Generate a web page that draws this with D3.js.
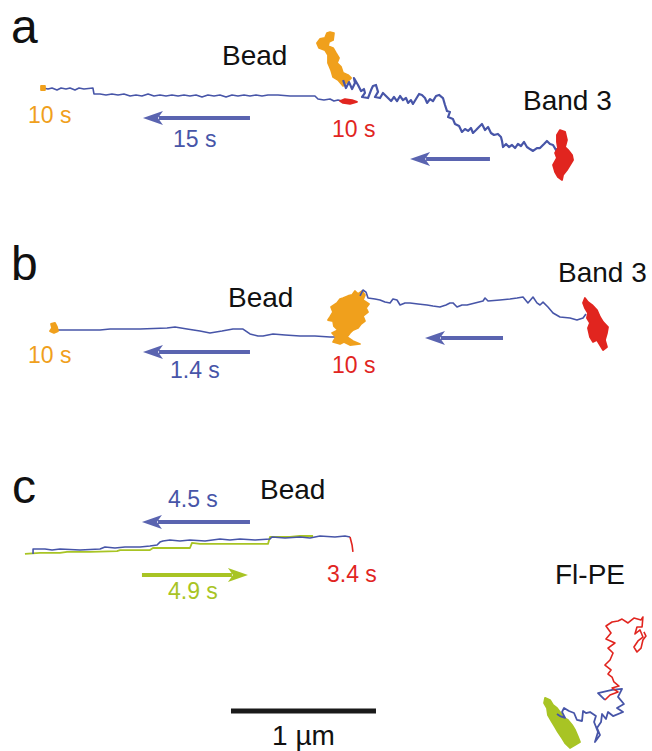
<!DOCTYPE html>
<html>
<head>
<meta charset="utf-8">
<script src="https://cdn.jsdelivr.net/npm/d3@7"></script>
<style>
body { margin: 0; background: #fff; }
svg text { font-family: "Liberation Sans", Arial, Helvetica, sans-serif; }
</style>
</head>
<body>
<div class="figHolder"></div>
<script>
// track coordinates in µm, measured from the top-left corner of each panel

// panel a
const beadStartA = [[0.283,0.593],[0.310,0.593],[0.310,0.621],[0.283,0.621]];
const beadTrackA = [[0.297,0.607],[0.331,0.614],[0.359,0.607],[0.393,0.621],[0.421,0.607],[0.455,0.614],[0.483,0.607],[0.517,0.621],[0.545,0.607],[0.579,0.614],[0.641,0.607],[0.648,0.648],[0.690,0.648],[0.731,0.655],[0.772,0.648],[0.814,0.655],[0.855,0.648],[0.897,0.662],[0.938,0.655],[0.979,0.662],[1.021,0.648],[1.062,0.662],[1.103,0.655],[1.145,0.662],[1.186,0.655],[1.228,0.662],[1.269,0.655],[1.310,0.662],[1.352,0.655],[1.393,0.669],[1.434,0.655],[1.476,0.662],[1.517,0.655],[1.559,0.669],[1.600,0.655],[1.641,0.662],[1.683,0.655],[1.724,0.662],[1.766,0.655],[1.807,0.662],[1.848,0.655],[1.917,0.655],[2.000,0.662],[2.172,0.662],[2.193,0.683],[2.234,0.690],[2.276,0.683],[2.303,0.697],[2.331,0.690],[2.359,0.697],[2.400,0.697]];
const beadEndA = [[2.345,0.697],[2.379,0.683],[2.428,0.690],[2.462,0.703],[2.414,0.717],[2.366,0.710]];
const band3StartA = [[2.276,0.221],[2.303,0.228],[2.297,0.276],[2.269,0.290],[2.262,0.317],[2.297,0.331],[2.317,0.366],[2.338,0.400],[2.324,0.434],[2.352,0.462],[2.366,0.503],[2.400,0.517],[2.421,0.538],[2.393,0.566],[2.366,0.593],[2.331,0.552],[2.297,0.531],[2.283,0.483],[2.262,0.434],[2.262,0.379],[2.241,0.345],[2.200,0.331],[2.186,0.297],[2.207,0.269],[2.241,0.262],[2.255,0.228]];
const band3TrackA = [[2.366,0.552],[2.386,0.607],[2.407,0.566],[2.428,0.614],[2.448,0.572],[2.441,0.538],[2.469,0.586],[2.490,0.628],[2.510,0.614],[2.517,0.641],[2.497,0.669],[2.538,0.676],[2.559,0.621],[2.572,0.593],[2.593,0.586],[2.607,0.634],[2.586,0.669],[2.621,0.676],[2.641,0.641],[2.662,0.662],[2.676,0.676],[2.697,0.697],[2.717,0.669],[2.738,0.697],[2.759,0.662],[2.779,0.690],[2.800,0.676],[2.814,0.710],[2.834,0.690],[2.848,0.717],[2.869,0.683],[2.890,0.648],[2.910,0.655],[2.931,0.676],[2.945,0.710],[2.966,0.683],[2.986,0.697],[3.007,0.662],[3.028,0.655],[3.055,0.676],[3.069,0.724],[3.083,0.766],[3.103,0.772],[3.090,0.807],[3.124,0.821],[3.138,0.855],[3.166,0.869],[3.186,0.910],[3.207,0.890],[3.228,0.903],[3.248,0.883],[3.262,0.917],[3.283,0.897],[3.303,0.876],[3.324,0.855],[3.345,0.897],[3.366,0.876],[3.386,0.917],[3.407,0.931],[3.434,0.924],[3.455,0.945],[3.462,0.972],[3.469,1.014],[3.490,0.993],[3.510,1.014],[3.531,1.000],[3.552,1.021],[3.572,0.993],[3.593,1.007],[3.614,0.979],[3.634,1.014],[3.655,1.028],[3.676,1.041],[3.703,1.021],[3.724,1.021],[3.752,0.993],[3.772,0.972],[3.793,0.993],[3.814,1.000],[3.834,1.034],[3.855,1.021],[3.876,1.048],[3.897,1.034],[3.917,1.055]];
const band3EndA = [[3.862,0.897],[3.897,0.910],[3.910,0.966],[3.897,1.014],[3.917,1.034],[3.945,1.069],[3.952,1.103],[3.931,1.138],[3.910,1.172],[3.883,1.207],[3.876,1.241],[3.848,1.221],[3.828,1.186],[3.814,1.138],[3.841,1.090],[3.828,1.055],[3.848,1.021],[3.841,0.979],[3.841,0.931]];
// arrows: [tail x, head x, y]
const arrowsA = [[1.724,0.986,0.814],[3.379,2.828,1.097]];

// panel b
const beadStartB = [[0.352,0.648],[0.379,0.641],[0.393,0.669],[0.400,0.697],[0.372,0.710],[0.345,0.697],[0.359,0.676]];
const beadTrackB = [[0.400,0.690],[0.690,0.690],[0.759,0.683],[0.966,0.683],[1.152,0.676],[1.207,0.669],[1.290,0.683],[1.379,0.697],[1.448,0.710],[1.531,0.697],[1.607,0.683],[1.676,0.683],[1.724,0.717],[1.779,0.731],[1.814,0.731],[1.883,0.717],[1.966,0.724],[2.069,0.731],[2.172,0.731],[2.276,0.738],[2.379,0.738]];
const band3StartB = [[2.276,0.600],[2.297,0.566],[2.283,0.531],[2.324,0.503],[2.345,0.476],[2.366,0.469],[2.400,0.455],[2.428,0.448],[2.448,0.421],[2.469,0.441],[2.497,0.421],[2.517,0.448],[2.503,0.483],[2.545,0.510],[2.524,0.538],[2.538,0.566],[2.503,0.593],[2.517,0.628],[2.490,0.648],[2.469,0.676],[2.434,0.690],[2.414,0.710],[2.393,0.738],[2.434,0.766],[2.483,0.786],[2.414,0.793],[2.372,0.772],[2.345,0.786],[2.297,0.772],[2.317,0.738],[2.290,0.710],[2.331,0.690],[2.303,0.662],[2.297,0.628],[2.262,0.621]];
const band3TrackB = [[2.483,0.455],[2.503,0.414],[2.524,0.428],[2.538,0.469],[2.586,0.476],[2.621,0.483],[2.655,0.497],[2.690,0.503],[2.710,0.476],[2.738,0.483],[2.759,0.517],[2.793,0.503],[2.828,0.503],[2.883,0.510],[2.945,0.517],[2.986,0.524],[3.034,0.531],[3.076,0.517],[3.103,0.503],[3.124,0.503],[3.152,0.531],[3.186,0.517],[3.221,0.517],[3.276,0.503],[3.331,0.490],[3.345,0.469],[3.366,0.490],[3.448,0.483],[3.517,0.476],[3.566,0.469],[3.607,0.462],[3.641,0.503],[3.676,0.462],[3.703,0.503],[3.724,0.517],[3.745,0.497],[3.779,0.531],[3.814,0.572],[3.862,0.600],[3.931,0.607],[3.979,0.621],[4.021,0.607],[4.041,0.579]];
const band3EndB = [[4.034,0.469],[4.055,0.497],[4.083,0.517],[4.117,0.552],[4.138,0.600],[4.159,0.634],[4.193,0.669],[4.186,0.710],[4.172,0.759],[4.186,0.807],[4.159,0.828],[4.138,0.793],[4.117,0.759],[4.090,0.772],[4.069,0.738],[4.055,0.676],[4.069,0.641],[4.048,0.607],[4.055,0.572],[4.034,0.538],[4.021,0.503]];
const arrowsB = [[1.724,0.986,0.841],[3.469,2.931,0.745]];

// panel c, bead
const beadTrackBlueC = [[0.228,0.648],[0.228,0.614],[0.310,0.614],[0.359,0.621],[0.414,0.614],[0.552,0.621],[0.690,0.614],[0.724,0.600],[0.793,0.607],[0.862,0.600],[0.966,0.600],[1.034,0.593],[1.083,0.586],[1.103,0.566],[1.124,0.559],[1.172,0.552],[1.241,0.559],[1.310,0.552],[1.414,0.559],[1.517,0.545],[1.586,0.552],[1.655,0.545],[1.759,0.552],[1.862,0.545],[1.876,0.531],[1.966,0.538],[2.069,0.531],[2.138,0.538],[2.207,0.524],[2.310,0.531],[2.379,0.524],[2.414,0.531]];
const beadTrackGreenC = [[0.172,0.648],[0.276,0.641],[0.414,0.641],[0.462,0.634],[0.621,0.634],[0.807,0.628],[0.828,0.621],[1.034,0.621],[1.055,0.607],[1.207,0.607],[1.310,0.607],[1.324,0.572],[1.379,0.579],[1.517,0.579],[1.724,0.579],[1.848,0.579],[1.862,0.531],[2.000,0.531],[2.069,0.524],[2.159,0.524]];
const beadTrackRedC = [[2.414,0.531],[2.428,0.586],[2.434,0.634]];
const arrowsC = [[1.724,0.979,0.428]];
const arrowsGreenC = [[0.979,1.710,0.793]];

// panel c, Fl-PE
const flpeRed = [[4.172,1.655],[4.207,1.621],[4.262,1.600],[4.221,1.572],[4.269,1.559],[4.234,1.531],[4.221,1.497],[4.193,1.476],[4.214,1.448],[4.172,1.414],[4.207,1.379],[4.228,1.331],[4.193,1.297],[4.241,1.262],[4.179,1.234],[4.214,1.193],[4.179,1.145],[4.221,1.117],[4.262,1.110],[4.290,1.097],[4.331,1.124],[4.372,1.090],[4.421,1.103],[4.434,1.083],[4.428,1.152],[4.393,1.152],[4.379,1.200],[4.414,1.172],[4.434,1.221],[4.400,1.248],[4.372,1.290],[4.393,1.324],[4.421,1.297],[4.434,1.241],[4.455,1.214],[4.441,1.186]];
const flpeBlue = [[4.172,1.655],[4.124,1.607],[4.221,1.586],[4.290,1.579],[4.262,1.634],[4.303,1.683],[4.255,1.710],[4.297,1.738],[4.228,1.766],[4.193,1.738],[4.179,1.786],[4.152,1.752],[4.145,1.807],[4.117,1.848],[4.138,1.897],[4.103,1.945],[4.124,1.876],[4.097,1.807],[4.110,1.766],[4.069,1.738],[4.041,1.745],[4.021,1.731],[4.014,1.800],[3.979,1.793],[3.959,1.745],[3.924,1.731],[3.890,1.710],[3.876,1.738],[3.897,1.779],[3.862,1.766],[3.841,1.752]];
const flpeGreen = [[3.759,1.641],[3.793,1.655],[3.814,1.690],[3.841,1.710],[3.862,1.738],[3.883,1.772],[3.917,1.793],[3.945,1.828],[3.966,1.862],[3.986,1.910],[4.000,1.945],[3.966,1.966],[3.931,1.986],[3.897,1.952],[3.876,1.917],[3.848,1.876],[3.828,1.841],[3.807,1.807],[3.779,1.759],[3.772,1.710],[3.752,1.676]];

// scale bar: start (µm), length (µm), y (µm)
const scaleBar = [1.593, 1, 1.731];

let w = 652,
  h = 751,
  pxPerUm = 145,
  panelTops = [0, 230, 460];

let colBlue = "#4755a8",
  colArrow = "#5a64b0",
  colOrange = "#f0a01c",
  colRed = "#e1251f",
  colGreen = "#a8c424";

let svg = d3.select(".figHolder")
  .append("svg")
  .attr("width", w)
  .attr("height", h);

svg.append("rect").attr("width", w).attr("height", h).attr("fill", "#fff");

let xScale = d3.scaleLinear().domain([0, w / pxPerUm]).range([0, w]);
let yScale = d3.scaleLinear().domain([0, 2.2]).range([0, 2.2 * pxPerUm]);

let trackLine = d3.line().x(d => xScale(d[0])).y(d => yScale(d[1]));
let blobLine = d3.line().x(d => xScale(d[0])).y(d => yScale(d[1])).curve(d3.curveLinearClosed);

function drawTrack(g, pts, color, sw) {
  g.append("path")
    .attr("d", trackLine(pts))
    .attr("fill", "none")
    .attr("stroke", color)
    .attr("stroke-width", sw || 1.6)
    .attr("stroke-linejoin", "round");
}

function drawBlob(g, pts, color) {
  g.append("path")
    .attr("d", blobLine(pts))
    .attr("fill", color)
    .attr("stroke", color)
    .attr("stroke-width", 1.8)
    .attr("stroke-linejoin", "round");
}

function drawArrow(g, a, color) {
  let x0 = xScale(a[0]), x1 = xScale(a[1]), yy = yScale(a[2]);
  let dir = x1 > x0 ? 1 : -1;
  let headLen = 20, headW = 7;
  g.append("line")
    .attr("x1", x0).attr("x2", x1 - dir * (headLen - 4))
    .attr("y1", yy).attr("y2", yy)
    .attr("stroke", color).attr("stroke-width", 4);
  g.append("path")
    .attr("d", "M" + x1 + "," + yy + "L" + (x1 - dir * headLen) + "," + (yy - headW) + "L" + (x1 - dir * (headLen - 5)) + "," + yy + "L" + (x1 - dir * headLen) + "," + (yy + headW) + "Z")
    .attr("fill", color);
}

function label(g, x, y, txt, size, color, anchor) {
  g.append("text")
    .attr("x", x).attr("y", y)
    .attr("font-size", size)
    .attr("fill", color)
    .attr("text-anchor", anchor || "start")
    .text(txt);
}

let pA = svg.append("g").attr("transform", "translate(0," + panelTops[0] + ")");
let pB = svg.append("g").attr("transform", "translate(0," + panelTops[1] + ")");
let pC = svg.append("g").attr("transform", "translate(0," + panelTops[2] + ")");

// panel a
drawTrack(pA, beadTrackA, colBlue);
drawBlob(pA, beadStartA, colOrange);
drawBlob(pA, beadEndA, colRed);
drawBlob(pA, band3StartA, colOrange);
drawTrack(pA, band3TrackA, colBlue, 2.2);
drawBlob(pA, band3EndA, colRed);
arrowsA.forEach(a => drawArrow(pA, a, colArrow));

label(pA, 11, 43, "a", 48, "#111");
label(pA, 222, 65, "Bead", 28, "#111");
label(pA, 523, 110, "Band 3", 28, "#111");
label(pA, 28, 123, "10 s", 23, colOrange);
label(pA, 173, 147, "15 s", 23, colBlue);
label(pA, 332, 137, "10 s", 23, colRed);

// panel b
drawTrack(pB, beadTrackB, colBlue);
drawBlob(pB, beadStartB, colOrange);
drawBlob(pB, band3StartB, colOrange);
drawTrack(pB, band3TrackB, colBlue);
drawBlob(pB, band3EndB, colRed);
arrowsB.forEach(a => drawArrow(pB, a, colArrow));

label(pB, 11, 50, "b", 48, "#111");
label(pB, 228, 77, "Bead", 28, "#111");
label(pB, 558, 52, "Band 3", 28, "#111");
label(pB, 28, 133, "10 s", 23, colOrange);
label(pB, 170, 148, "1.4 s", 23, colBlue);
label(pB, 332, 143, "10 s", 23, colRed);

// panel c
drawTrack(pC, beadTrackGreenC, colGreen, 1.8);
drawTrack(pC, beadTrackBlueC, colBlue);
drawTrack(pC, beadTrackRedC, colRed);
arrowsC.forEach(a => drawArrow(pC, a, colArrow));
arrowsGreenC.forEach(a => drawArrow(pC, a, colGreen));

drawBlob(pC, flpeGreen, colGreen);
drawTrack(pC, flpeBlue, colBlue, 1.8);
drawTrack(pC, flpeRed, colRed);

pC.append("line")
  .attr("x1", xScale(scaleBar[0]))
  .attr("x2", xScale(scaleBar[0] + scaleBar[1]))
  .attr("y1", yScale(scaleBar[2]))
  .attr("y2", yScale(scaleBar[2]))
  .attr("stroke", "#1a1a1a")
  .attr("stroke-width", 5);

label(pC, 12, 43, "c", 48, "#111");
label(pC, 260, 39, "Bead", 28, "#111");
label(pC, 168, 47, "4.5 s", 23, colBlue);
label(pC, 168, 139, "4.9 s", 23, colGreen);
label(pC, 327, 122, "3.4 s", 23, colRed);
label(pC, 555, 124, "Fl-PE", 28, "#111");
label(pC, xScale(scaleBar[0] + scaleBar[1] / 2), 285, "1 µm", 28, "#111", "middle");
</script>
</body>
</html>
